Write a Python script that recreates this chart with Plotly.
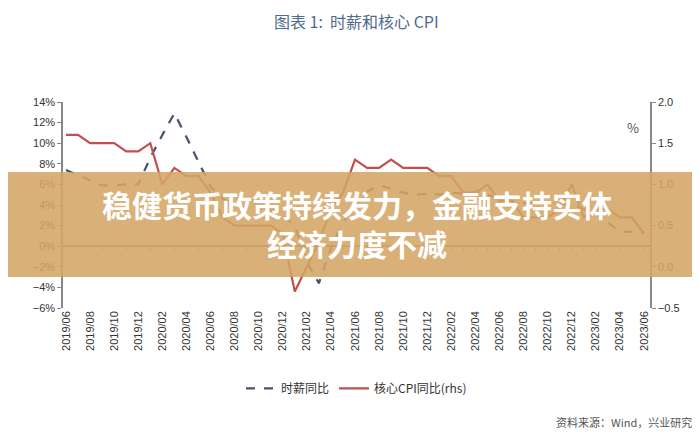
import plotly.graph_objects as go

months = [f"{y}/{m:02d}" for y in range(2019, 2024) for m in range(1, 13)]
months = months[5:54]  # 2019/06 .. 2023/06

wage = [7.4, 6.9, 6.4, 5.9, 5.9, 6.0, 6.0, 8.6, 10.8, 12.9, 10.6, 8.2,
        5.8, 4.6, 4.0, 3.8, 4.4, 3.4, 3.0, 2.0, -1.5, -3.6, -0.2, 2.3,
        4.0, 5.3, 5.9, 5.6, 5.2, 5.0, 5.1, 5.0, 5.2, 5.1, 5.3, 5.0,
        4.6, 4.4, 4.2, 4.2, 4.2, 4.1, 4.0, 3.6, 3.2, 2.3, 1.4, 1.4, 1.4]
cpi = [1.6, 1.6, 1.5, 1.5, 1.5, 1.4, 1.4, 1.5, 1.0, 1.2, 1.1, 1.1,
       0.9, 0.6, 0.5, 0.5, 0.5, 0.5, 0.4, -0.3, 0.0, 0.3, 0.7, 0.9,
       1.3, 1.2, 1.2, 1.3, 1.2, 1.2, 1.2, 1.1, 1.1, 0.9, 0.9, 1.0,
       0.8, 0.8, 0.6, 0.6, 0.6, 0.7, 1.0, 0.6, 0.7, 0.7, 0.6, 0.6, 0.4]

idx = list(range(len(months)))
tick_idx = idx[::2]
tick_txt = months[::2]

fig = go.Figure()
fig.add_trace(go.Scatter(x=idx, y=wage, name="时薪同比", mode="lines",
                         line=dict(color="#44546a", width=2.2, dash="dash")))
fig.add_trace(go.Scatter(x=idx, y=cpi, name="核心CPI同比(rhs)", mode="lines", yaxis="y2",
                         line=dict(color="#c0504d", width=2.2)))

axfont = dict(family="Liberation Sans, Arial", size=11, color="#333")
fig.update_layout(
    width=700, height=447,
    margin=dict(l=55, r=58, t=94, b=147),
    plot_bgcolor="white", paper_bgcolor="white",
    font=dict(family="Noto Sans CJK SC"),
    xaxis=dict(range=[-0.25, 48.5], tickvals=tick_idx, ticktext=tick_txt, tickangle=-90,
               showgrid=False, zeroline=False, showline=False, ticks="",
               tickfont=axfont),
    yaxis=dict(range=[-6, 14], dtick=2, tickformat=".0f", ticksuffix="%",
               showgrid=False, zeroline=True, zerolinecolor="#888", zerolinewidth=1.5,
               showline=True, linecolor="#888", linewidth=1.5, ticks="outside",
               ticklen=4, tickcolor="#888", tickfont=axfont),
    yaxis2=dict(range=[-0.5, 2.0], dtick=0.5, tickformat=".1f", overlaying="y", side="right",
                showgrid=False, zeroline=False, showline=True, linecolor="#888", linewidth=1.5,
                ticks="outside", ticklen=4, tickcolor="#888", tickfont=axfont),
    legend=dict(orientation="h", x=0.5, xanchor="center", y=-0.39, yanchor="middle",
                font=dict(size=12, color="#333")),
    showlegend=True,
)

# minor x ticks on the zero line
for i in idx:
    fig.add_shape(type="line", xref="x", yref="y", x0=i, x1=i, y0=0, y1=-0.4,
                  line=dict(color="#888", width=1))

fig.add_annotation(text="图表 1:  时薪和核心 CPI", xref="paper", yref="paper",
                   x=0.5, y=1.46, showarrow=False,
                   font=dict(size=16, color="#4e6b8c"))
fig.add_annotation(text="%", xref="paper", yref="paper", x=0.985, y=0.93, showarrow=False,
                   font=dict(size=13, color="#555"))
fig.add_annotation(text="资料来源：Wind，兴业研究", xref="paper", yref="paper",
                   x=1.075, y=-0.6, xanchor="right", showarrow=False,
                   font=dict(size=11, color="#555"))

fig.add_shape(type="rect", xref="paper", yref="paper", x0=-0.1, x1=1.1, y0=0.15, y1=0.66,
              fillcolor="rgba(212,165,100,0.88)", line=dict(width=0), layer="above")
fig.add_annotation(text="<b>稳健货币政策持续发力，金融支持实体<br>经济力度不减</b>",
                   xref="paper", yref="paper", x=0.5, y=0.41, showarrow=False,
                   font=dict(size=30, color="white"))

fig.write_html("out.html")
